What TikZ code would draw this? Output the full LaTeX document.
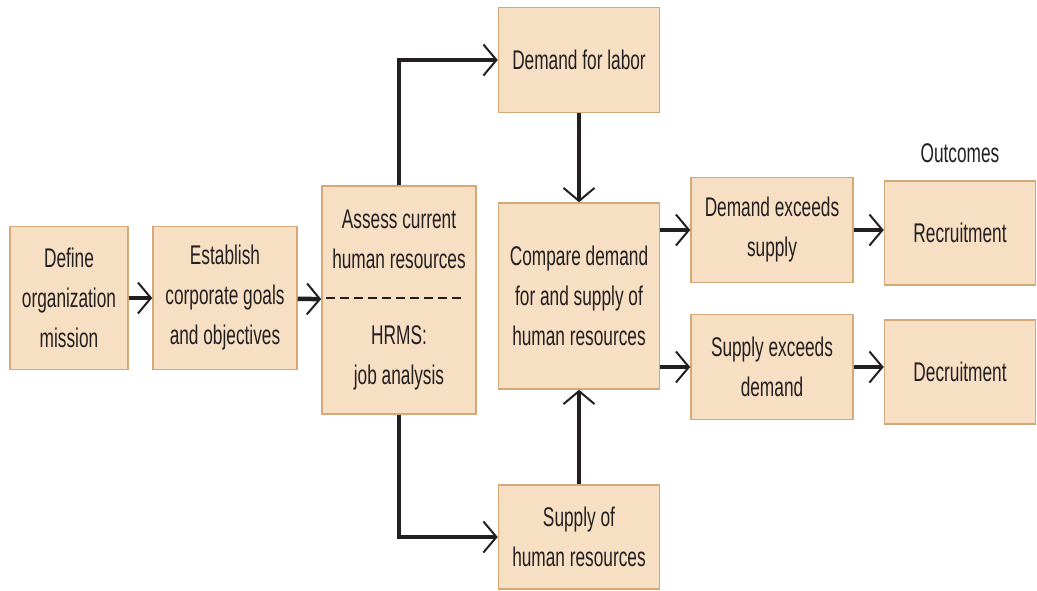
\documentclass[tikz,border=0pt]{standalone}
\usepackage{fontspec}
\setmainfont{Liberation Sans}[FakeStretch=0.64]
\usepackage{xcolor}
\usetikzlibrary{arrows.meta}

\definecolor{boxfill}{RGB}{247,223,196}
\definecolor{boxline}{RGB}{212,168,120}
\definecolor{ink}{RGB}{35,31,32}

\tikzset{
    box/.style={draw=boxline, fill=boxfill, line width=1.5pt, align=center,
        text=ink, inner sep=0pt},
    flow/.style={draw=ink, line width=4.5pt,
        -{Straight Barb[length=13pt, width=31pt, line width=2pt]}}
}

\begin{document}
\begin{tikzpicture}[x=1pt, y=-1pt, font=\fontsize{27}{40}\selectfont]
            \useasboundingbox (0,0) rectangle (1037,590);

            \node[box, minimum width=118pt, minimum height=143pt] (define) at (69,298){Define\\organization\\mission};
            \node[box, minimum width=144pt, minimum height=143pt] (establish) at (225,298){Establish\\corporate goals\\and objectives};
            \node[box, minimum width=154pt, minimum height=228pt] (assess) at (399,300){Assess current\\human resources\\[36pt]HRMS:\\job analysis};
            \node[box, minimum width=161pt, minimum height=105pt] (labor) at (579,60){Demand for labor};
            \node[box, minimum width=161pt, minimum height=186pt] (compare) at (579,296){Compare demand\\for and supply of\\human resources};
            \node[box, minimum width=161pt, minimum height=104pt] (supply) at (579,537){Supply of\\human resources};
            \node[box, minimum width=162pt, minimum height=105pt] (des) at (772,230){Demand exceeds\\supply};
            \node[box, minimum width=162pt, minimum height=105pt] (sed) at (772,367){Supply exceeds\\demand};
            \node[box, minimum width=151pt, minimum height=104pt] (recruit) at (960,233){Recruitment};
            \node[box, minimum width=151pt, minimum height=104pt] (decruit) at (960,372){Decruitment};
            \node[text=ink] (outcomes) at (960,153){Outcomes};

            % dashed divider inside the assessment box
            \draw[ink, line width=1.8pt, dash pattern=on 9pt off 5pt]
                ([xshift=5pt,yshift=2pt]assess.west) -- ([xshift=-12pt,yshift=2pt]assess.east);

            \draw[flow] (define) -- (establish);
            \draw[flow] (establish) -- (assess);
            \draw[flow] (assess.north) |- (labor.west);
            \draw[flow] (assess.south) |- (supply.west);
            \draw[flow] (labor) -- (compare);
            \draw[flow] (supply) -- (compare);
            \draw[flow] (compare.east |- des) -- (des.west);
            \draw[flow] (compare.east |- sed) -- (sed.west);
            \draw[flow] (des) -- (des -| recruit.west);
            \draw[flow] (sed) -- (sed -| decruit.west);
        \end{tikzpicture}
\end{document}
